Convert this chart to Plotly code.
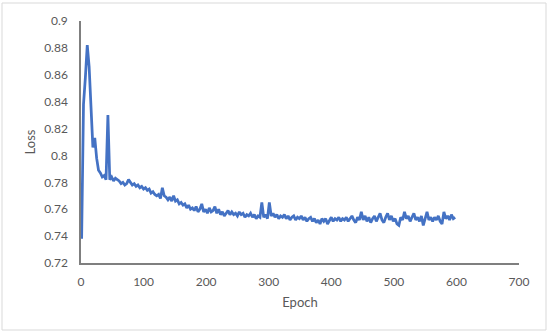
import plotly.graph_objects as go

epochs = list(range(1, 601, 3))
loss = [
    0.738, 0.838, 0.858, 0.882, 0.866, 0.830, 0.806, 0.813, 0.798, 0.789,
    0.787, 0.784, 0.785, 0.782, 0.830, 0.782, 0.784, 0.781, 0.783, 0.782,
    0.781, 0.779, 0.780, 0.778, 0.779, 0.782, 0.780, 0.778, 0.779, 0.777,
    0.778, 0.776, 0.777, 0.775, 0.776, 0.774, 0.775, 0.772, 0.773, 0.771,
    0.770, 0.771, 0.768, 0.776, 0.770, 0.769, 0.767, 0.769, 0.766, 0.770,
    0.766, 0.767, 0.764, 0.765, 0.763, 0.764, 0.761, 0.763, 0.760, 0.761,
    0.759, 0.762, 0.758, 0.760, 0.764, 0.758, 0.760, 0.757, 0.761, 0.758,
    0.759, 0.762, 0.757, 0.760, 0.756, 0.758, 0.755, 0.757, 0.759, 0.756,
    0.758, 0.756, 0.757, 0.755, 0.758, 0.756, 0.757, 0.754, 0.756, 0.755,
    0.757, 0.754, 0.756, 0.753, 0.755, 0.754, 0.765, 0.754, 0.756, 0.753,
    0.765, 0.755, 0.757, 0.754, 0.756, 0.753, 0.755, 0.754, 0.756, 0.753,
    0.755, 0.752, 0.754, 0.755, 0.752, 0.754, 0.753, 0.755, 0.752, 0.754,
    0.751, 0.753, 0.754, 0.751, 0.753, 0.750, 0.752, 0.749, 0.753, 0.751,
    0.753, 0.749, 0.752, 0.754, 0.751, 0.753, 0.752, 0.754, 0.751, 0.753,
    0.752, 0.754, 0.751, 0.753, 0.755, 0.752, 0.750, 0.754, 0.752, 0.758,
    0.752, 0.755, 0.751, 0.754, 0.750, 0.753, 0.755, 0.751, 0.754, 0.757,
    0.752, 0.750, 0.754, 0.757, 0.752, 0.755, 0.751, 0.753, 0.749, 0.748,
    0.754, 0.752, 0.758, 0.753, 0.755, 0.751, 0.754, 0.757, 0.752, 0.754,
    0.751, 0.755, 0.748, 0.753, 0.758, 0.752, 0.754, 0.751, 0.754, 0.752,
    0.755, 0.751, 0.749, 0.758, 0.753, 0.755, 0.752, 0.756, 0.753, 0.754,
]

x_title = "Epoch"
y_title = "Loss"

W, H = 550, 334
L, R, T, B = 81, 31, 21, 71
pw, ph = W - L - R, H - T - B

fig = go.Figure()
fig.add_trace(go.Scatter(x=epochs, y=loss, mode="lines",
                         line=dict(color="#4472C4", width=2.75), showlegend=False))

font = dict(family="Lato, Open Sans, sans-serif", size=12, color="#595959")

fig.update_layout(
    width=W, height=H,
    margin=dict(l=L, r=R, t=T, b=B),
    paper_bgcolor="white", plot_bgcolor="white",
    font=font,
    xaxis=dict(range=[0, 700], dtick=100, showgrid=False, zeroline=False,
               showline=True, linecolor="#7f7f7f", linewidth=1.5,
               ticks="outside", ticklen=7, tickcolor="rgba(0,0,0,0)",
               title=dict(text=x_title, font=dict(size=13, color="#595959"), standoff=10)),
    yaxis=dict(range=[0.72, 0.9], dtick=0.02, showgrid=False, zeroline=False,
               showline=True, linecolor="#7f7f7f", linewidth=1.5,
               ticks="outside", ticklen=9, tickcolor="rgba(0,0,0,0)",
               title=dict(text=y_title, font=dict(size=13, color="#595959"), standoff=6)),
)

# chart-area border
fig.add_shape(type="rect", xref="paper", yref="paper",
              x0=(2 - L) / pw, x1=(546 - L) / pw,
              y0=(H - B - 330) / ph, y1=(H - B - 3) / ph,
              line=dict(color="#d9d9d9", width=1), layer="below")

fig.write_html("out.html", config={"displayModeBar": False},
               post_script="document.body.style.margin='0';")
